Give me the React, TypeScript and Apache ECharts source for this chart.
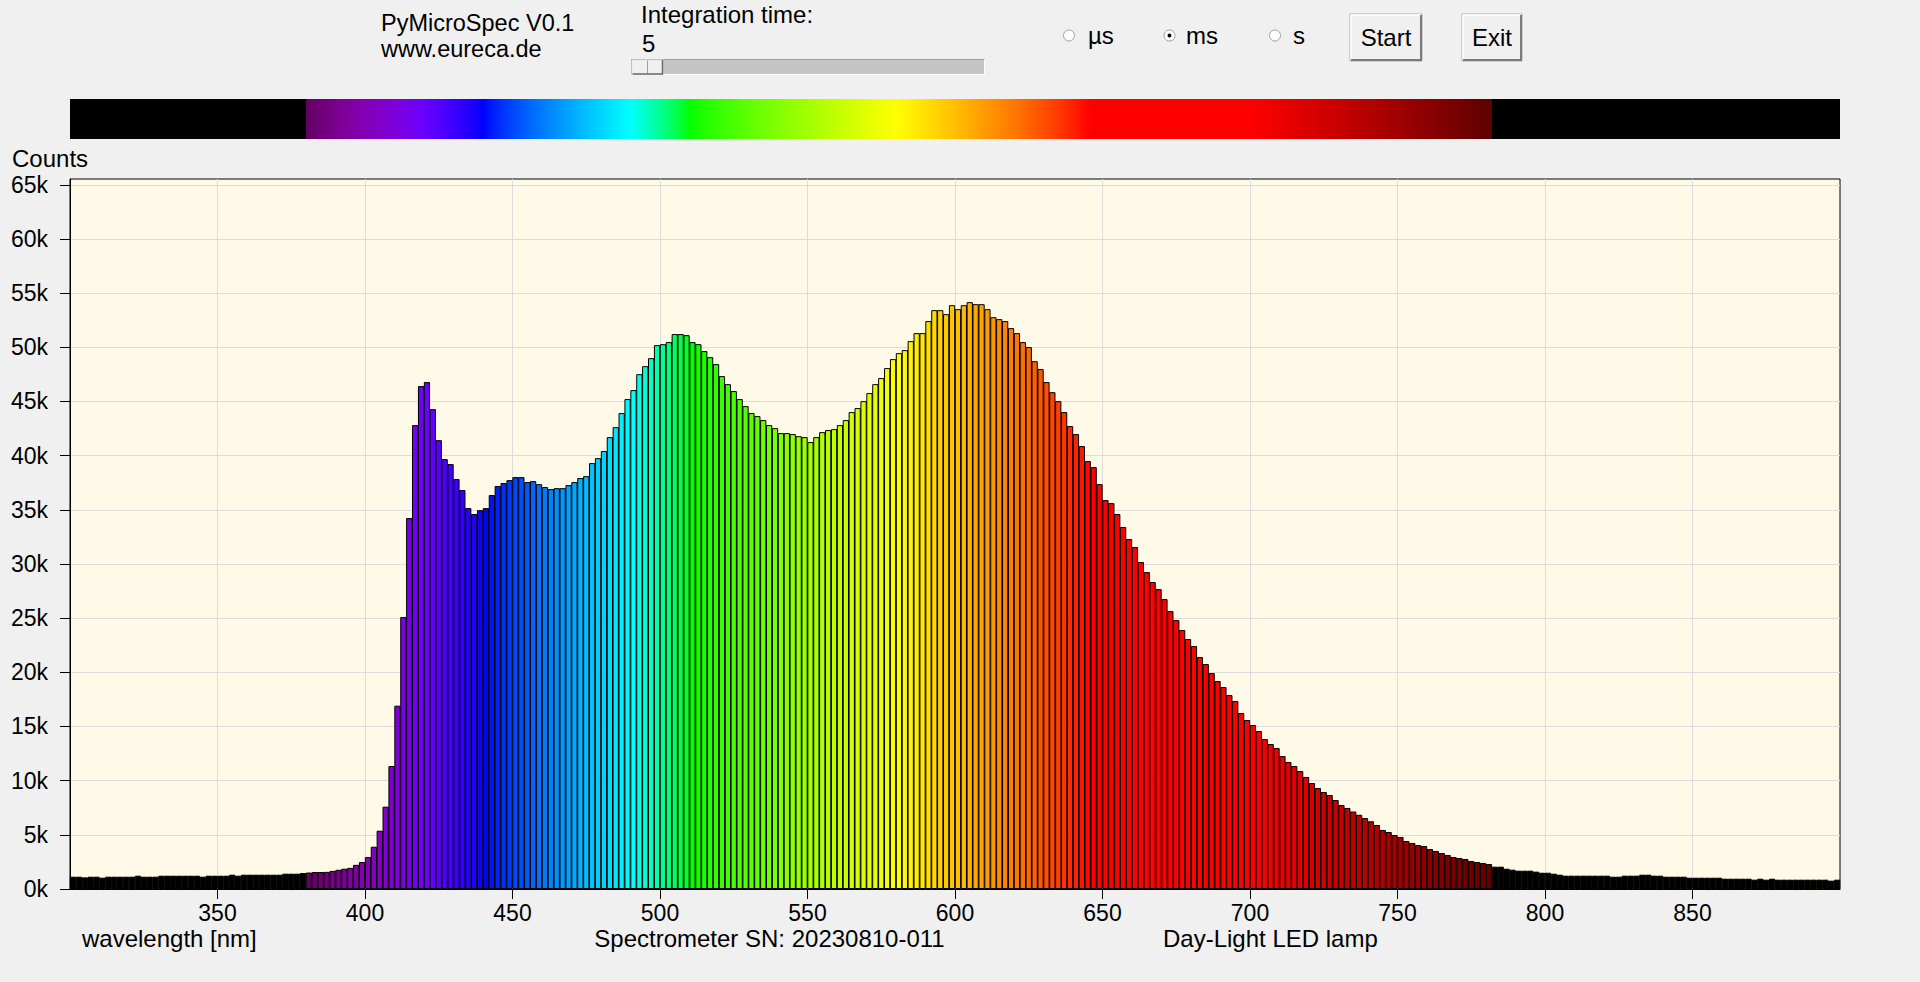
import React, { useEffect, useRef } from "react";
import * as echarts from "echarts";

// ---- data --------------------------------------------------------------
// spectrometer bins: 2 nm wide, first bin starts at 300 nm
const WAVELENGTH_START = 300;
const WAVELENGTH_STEP = 2;

// counts for bins 300..380 nm (outside visible range, drawn black)
const countsUV = [
  1135, 1135, 1073, 1135, 1135, 1043, 1135, 1135, 1135, 1135,
  1135, 1227, 1135, 1135, 1135, 1227, 1227, 1227, 1227, 1227,
  1227, 1227, 1135, 1227, 1227, 1227, 1227, 1320, 1227, 1320,
  1320, 1320, 1320, 1320, 1320, 1320, 1412, 1412, 1412, 1474,
];

// counts for bins 380..782 nm (visible range, coloured by wavelength)
const countsVisible = [
  1520, 1566, 1566, 1580, 1670, 1770, 1870, 1950, 2230, 2490,
  2950, 3900, 5380, 7600, 11350, 16920, 25100, 34240, 42820, 46420,
  46790, 44290, 41430, 39680, 39220, 37840, 36820, 35160, 34610, 34970,
  35160, 36360, 37190, 37470, 37740, 38020, 38020, 37560, 37650, 37370,
  37100, 36910, 37000, 37000, 37280, 37560, 37930, 38110, 39310, 39770,
  40430, 41710, 42630, 43930, 45220, 46050, 47520, 48260, 49000, 50200,
  50290, 50480, 51220, 51220, 51120, 50480, 50290, 49650, 49090, 48450,
  47340, 46600, 45960, 45220, 44570, 43930, 43650, 43280, 42820, 42540,
  42080, 42080, 41990, 41800, 41710, 41250, 41710, 42170, 42360, 42450,
  42820, 43280, 44020, 44390, 45030, 45770, 46600, 47160, 48080, 48910,
  49460, 49740, 50570, 51310, 51310, 52420, 53430, 53430, 53060, 53890,
  53520, 53890, 54170, 53980, 53980, 53520, 52780, 52600, 52420, 51770,
  51310, 50480, 50020, 48720, 47990, 46790, 45860, 45030, 44020, 42730,
  41990, 40880, 39500, 38940, 37370, 35900, 35620, 34610, 33410, 32300,
  31560, 30180, 29250, 28330, 27680, 26760, 25650, 24820, 23900, 23070,
  22420, 21410, 20760, 19930, 19190, 18640, 17900, 17350, 16240, 15600,
  15130, 14580, 13840, 13380, 13010, 12270, 11720, 11350, 10890, 10340,
  9780, 9320, 8950, 8670, 8210, 7750, 7480, 7150, 6850, 6550,
  6250, 5910, 5450, 5260, 4980, 4800, 4430, 4250, 4060, 3970,
  3690, 3510, 3320, 3140, 2950, 2860, 2770, 2580, 2490, 2400,
  2310,
];

// counts for bins 782..900 nm (outside visible range, drawn black)
const countsIR = [
  2060, 2060, 1870, 1780, 1690, 1690, 1690, 1600, 1500, 1500,
  1410, 1320, 1230, 1230, 1230, 1230, 1230, 1230, 1230, 1230,
  1135, 1135, 1230, 1230, 1230, 1320, 1320, 1230, 1230, 1135,
  1135, 1135, 1135, 1040, 1040, 1040, 1040, 1040, 1040, 950,
  950, 950, 950, 950, 860, 950, 860, 950, 860, 860,
  860, 860, 860, 860, 860, 860, 860, 770, 860,
];

const X_MIN = 300;
const X_MAX = 900;
const X_TICKS = [350, 400, 450, 500, 550, 600, 650, 700, 750, 800, 850];
const Y_MAX = 65535;
const Y_TICKS = [0, 5000, 10000, 15000, 20000, 25000, 30000, 35000, 40000, 45000, 50000, 55000, 60000, 65000];
const VISIBLE = [380, 780];

const TITLE = "PyMicroSpec V0.1";
const SITE = "www.eureca.de";
const SN_TEXT = "Spectrometer SN: 20230810-011";
const LAMP_TEXT = "Day-Light LED lamp";
const X_NAME = "wavelength [nm]";
const Y_NAME = "Counts";
const INTEGRATION_LABEL = "Integration time:";
const INTEGRATION_VALUE = "5";
const UNITS = ["µs", "ms", "s"];
const SELECTED_UNIT = "ms";

// ---- helpers -----------------------------------------------------------
function spectrumRGB(w: number): [number, number, number] {
  if (w < VISIBLE[0] || w > VISIBLE[1]) return [0, 0, 0];
  let r = 0, g = 0, b = 0;
  if (w < 440) { r = -(w - 440) / 60; b = 1; }
  else if (w < 490) { g = (w - 440) / 50; b = 1; }
  else if (w < 510) { g = 1; b = -(w - 510) / 20; }
  else if (w < 580) { r = (w - 510) / 70; g = 1; }
  else if (w < 645) { r = 1; g = -(w - 645) / 65; }
  else { r = 1; }
  let f = 1;
  if (w < 420) f = 0.3 + (0.7 * (w - 380)) / 40;
  else if (w > 700) f = 0.3 + (0.7 * (780 - w)) / 80;
  const c = (v: number) => Math.round(255 * Math.pow(Math.max(0, v * f), 0.8));
  return [c(r), c(g), c(b)];
}
function spectrumColor(w: number): string {
  const [r, g, b] = spectrumRGB(w);
  return `rgb(${r},${g},${b})`;
}

const FONT = '"Liberation Sans", Arial, Helvetica, sans-serif';

function txt(text: string, x: number, y: number, align = "left", size = 24) {
  return {
    type: "text",
    x,
    y,
    silent: true,
    style: { text, fontSize: size, fontFamily: FONT, fill: "#000", align, verticalAlign: "middle" },
  };
}

function button(label: string, x: number, y: number, w: number, h: number) {
  return {
    type: "group",
    x,
    y,
    children: [
      { type: "rect", shape: { x: 0, y: 0, width: w, height: h }, style: { fill: "#f0f0f0", stroke: "#adadad", lineWidth: 1 } },
      { type: "polyline", shape: { points: [[1, h - 1], [1, 1], [w - 1, 1]] }, style: { stroke: "#ffffff", lineWidth: 1.5, fill: null } },
      { type: "polyline", shape: { points: [[1, h - 1], [w - 1, h - 1], [w - 1, 1]] }, style: { stroke: "#7a7a7a", lineWidth: 2, fill: null } },
      { type: "text", x: w / 2, y: h / 2, style: { text: label, fontSize: 24, fontFamily: FONT, fill: "#000", align: "center", verticalAlign: "middle" } },
    ],
  };
}

function radio(cx: number, cy: number, selected: boolean) {
  const children: any[] = [
    { type: "circle", shape: { cx, cy, r: 5.5 }, style: { fill: "#ffffff", stroke: "#a0a0a0", lineWidth: 1 } },
  ];
  if (selected) children.push({ type: "circle", shape: { cx, cy, r: 2 }, style: { fill: "#000" } });
  return { type: "group", children };
}

export default function App() {
  const ref = useRef<HTMLDivElement>(null);

  useEffect(() => {
    if (!ref.current) return;
    const chart = echarts.init(ref.current, null, { renderer: "svg" });

    const counts = [...countsUV, ...countsVisible, ...countsIR];
    const data = counts.map((c, i) => [WAVELENGTH_START + WAVELENGTH_STEP * (i + 0.5), c]);

    // colour bar gradient (same colouring as the bars: bin left edge decides the colour)
    const stops: any[] = [];
    const span = X_MAX - X_MIN;
    const barEnd = VISIBLE[1] + WAVELENGTH_STEP;
    for (let w = X_MIN; w <= X_MAX; w += 2) {
      const cw = w > VISIBLE[1] && w <= barEnd ? VISIBLE[1] : w;
      stops.push({ offset: (w - X_MIN) / span, color: spectrumColor(cw) });
      if (w === VISIBLE[0] - 2) stops.push({ offset: (VISIBLE[0] - 0.01 - X_MIN) / span, color: "#000" });
      if (w === barEnd) stops.push({ offset: (barEnd + 0.01 - X_MIN) / span, color: "#000" });
    }
    stops.sort((a, b) => a.offset - b.offset);

    const gridLeft = 70, gridTop = 179, gridW = 1770, gridH = 710;

    const unitX = [1069, 1169.5, 1275];
    const unitTextX = [1088, 1186, 1293];

    const graphic: any[] = [
      txt(TITLE, 381, 23, "left", 23.5),
      txt(SITE, 381, 49, "left", 23.5),
      txt(INTEGRATION_LABEL, 641, 14),
      txt(INTEGRATION_VALUE, 642, 43),
      // slider track
      { type: "rect", shape: { x: 631, y: 59, width: 354, height: 16 }, style: { fill: "#c4c4c4" } },
      { type: "polyline", shape: { points: [[631.5, 75], [631.5, 59.5], [985, 59.5]] }, style: { stroke: "#a0a0a0", lineWidth: 1, fill: null } },
      { type: "polyline", shape: { points: [[631.5, 74.5], [984.5, 74.5], [984.5, 59.5]] }, style: { stroke: "#ffffff", lineWidth: 1, fill: null } },
      // slider thumb
      { type: "rect", shape: { x: 632, y: 60, width: 31, height: 14 }, style: { fill: "#f0f0f0", stroke: "#e3e3e3", lineWidth: 1 } },
      { type: "line", shape: { x1: 647.5, y1: 60.5, x2: 647.5, y2: 73.5 }, style: { stroke: "#a0a0a0", lineWidth: 1 } },
      { type: "polyline", shape: { points: [[632.5, 74], [662.5, 74], [662.5, 60]] }, style: { stroke: "#696969", lineWidth: 1.5, fill: null } },
      // radio buttons
      ...UNITS.map((u, i) => radio(unitX[i], 35.5, u === SELECTED_UNIT)),
      ...UNITS.map((u, i) => txt(u, unitTextX[i], 35)),
      button("Start", 1350, 14, 72, 47),
      button("Exit", 1462, 14, 60, 47),
      // colour bar
      {
        type: "rect",
        shape: { x: gridLeft, y: 99, width: gridW, height: 40 },
        style: { fill: new echarts.graphic.LinearGradient(0, 0, 1, 0, stops) },
      },
      txt(Y_NAME, 12, 158.5),
      txt(X_NAME, 82, 938),
      txt(SN_TEXT, 769.5, 938, "center"),
      txt(LAMP_TEXT, 1163, 938),
    ];

    chart.setOption({
      animation: false,
      backgroundColor: "#f0f0f0",
      textStyle: { fontFamily: FONT },
      grid: {
        left: gridLeft,
        top: gridTop,
        width: gridW,
        height: gridH,
        show: true,
        backgroundColor: "#fff9e7",
        borderColor: "#000",
        borderWidth: 1,
        containLabel: false,
      },
      xAxis: {
        type: "value",
        min: X_MIN,
        max: X_MAX,
        interval: 50,
        axisLine: { show: true, onZero: false, lineStyle: { color: "#000", width: 1 } },
        axisTick: { show: true, length: 10, customValues: X_TICKS, lineStyle: { color: "#000", width: 1 } },
        axisLabel: { customValues: X_TICKS, color: "#000", fontSize: 23, fontFamily: FONT, margin: 12 },
        splitLine: { show: true, lineStyle: { color: "#dcdcdc", width: 1 } },
      },
      yAxis: {
        type: "value",
        min: 0,
        max: Y_MAX,
        interval: 5000,
        axisLine: { show: true, lineStyle: { color: "#000", width: 1 } },
        axisTick: { show: true, length: 10, customValues: Y_TICKS, lineStyle: { color: "#000", width: 1 } },
        axisLabel: {
          customValues: Y_TICKS,
          color: "#000",
          fontSize: 23,
          fontFamily: FONT,
          margin: 22,
          formatter: (v: number) => `${Math.round(v / 1000)}k`,
        },
        splitLine: { show: true, lineStyle: { color: "#dcdcdc", width: 1 } },
      },
      series: [
        {
          type: "bar",
          data,
          barWidth: "106%",
          itemStyle: {
            color: (p: any) => spectrumColor(p.value[0] - WAVELENGTH_STEP / 2),
            borderColor: "#000",
            borderWidth: 1,
          },
          emphasis: { disabled: true },
        },
      ],
      graphic,
    });

    return () => chart.dispose();
  }, []);

  return (
    <div
      ref={ref}
      style={{ position: "fixed", left: 0, top: 0, width: 1920, height: 982, background: "#f0f0f0" }}
    />
  );
}
